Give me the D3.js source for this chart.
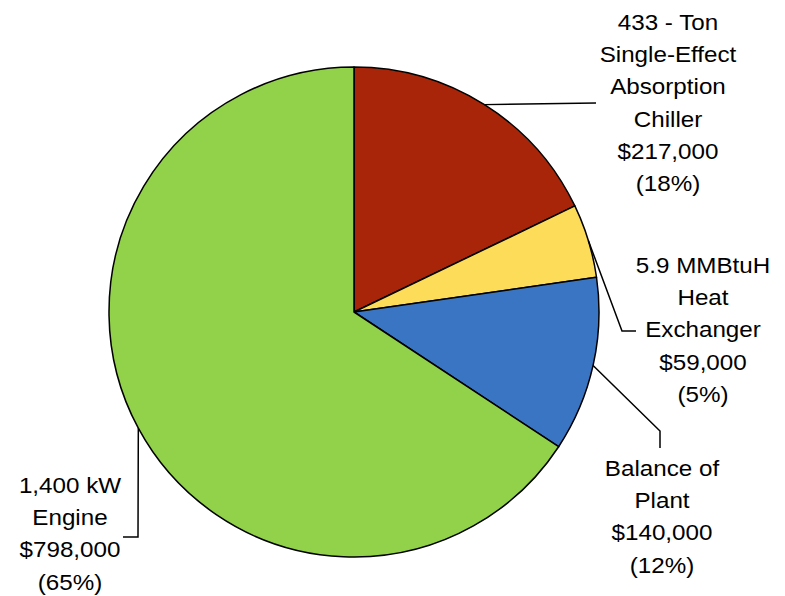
<!DOCTYPE html>
<html>
<head>
<meta charset="utf-8">
<script src="https://cdn.jsdelivr.net/npm/d3@7"></script>
<style>
  body { margin: 0; background: #fff; }
  text { font-family: "Liberation Sans", Arial, sans-serif; font-size: 22px; fill: #000; }
</style>
</head>
<body>
<div id="chart"></div>
<script>
'use strict'

// data
let names = ["433 - Ton Single-Effect Absorption Chiller", "5.9 MMBtuH Heat Exchanger", "Balance of Plant", "1,400 kW Engine"]
let costs = [217000, 59000, 140000, 798000]
let labelLines = [
	["433 - Ton", "Single-Effect", "Absorption", "Chiller", "$217,000", "(18%)"],
	["5.9 MMBtuH", "Heat", "Exchanger", "$59,000", "(5%)"],
	["Balance of", "Plant", "$140,000", "(12%)"],
	["1,400 kW", "Engine", "$798,000", "(65%)"]
]
let colors = ["#A9250A", "#FDDC5A", "#3A75C4", "#92D14A"]

let width = 785, height = 596
let cx = 354, cy = 312, radius = 245

// label placement: text centre x, first line y, and leader elbow points
let labelPos = [
	{x: 668, y: 22, elbow: [[596, 103]]},
	{x: 703, y: 265, elbow: [[622, 331], [636, 331]]},
	{x: 662, y: 468, elbow: [[660, 431], [660, 448]]},
	{x: 70, y: 485, elbow: [[138, 537], [123, 537]]}
]
let lineH = 32.3

let svg = d3.select("#chart").append("svg")
	.attr("width", width)
	.attr("height", height)

let pie = d3.pie().sort(null).value(function(d){ return d })
let arcs = pie(costs)
let arc = d3.arc().innerRadius(0).outerRadius(radius)

let g = svg.append("g").attr("transform", "translate(" + cx + "," + cy + ")")

g.selectAll("path.slice")
	.data(arcs)
	.enter()
	.append("path")
	.attr("class", "slice")
	.attr("d", arc)
	.attr("fill", function(d, i){ return colors[i] })
	.attr("stroke", "#000")
	.attr("stroke-width", 1.5)
	.attr("stroke-linejoin", "round")

// leader lines
let line = d3.line()
svg.selectAll("path.leader")
	.data(arcs)
	.enter()
	.append("path")
	.attr("class", "leader")
	.attr("d", function(d, i){
		let a = (d.startAngle + d.endAngle) / 2
		let start = [cx + radius * Math.sin(a), cy - radius * Math.cos(a)]
		return line([start].concat(labelPos[i].elbow))
	})
	.attr("fill", "none")
	.attr("stroke", "#000")
	.attr("stroke-width", 1.5)

// labels (slightly stretched horizontally like the original)
let labels = svg.selectAll("text.lbl")
	.data(labelLines)
	.enter()
	.append("text")
	.attr("class", "lbl")
	.attr("text-anchor", "middle")
	.attr("transform", function(d, i){
		return "translate(" + labelPos[i].x + ",0) scale(1.1,1)"
	})

labels.selectAll("tspan")
	.data(function(d, i){
		return d.map(function(t, j){ return {t: t, i: i, j: j} })
	})
	.enter()
	.append("tspan")
	.attr("x", 0)
	.attr("y", function(d){ return labelPos[d.i].y + d.j * lineH })
	.attr("dy", "0.35em")
	.text(function(d){ return d.t })
</script>
</body>
</html>
